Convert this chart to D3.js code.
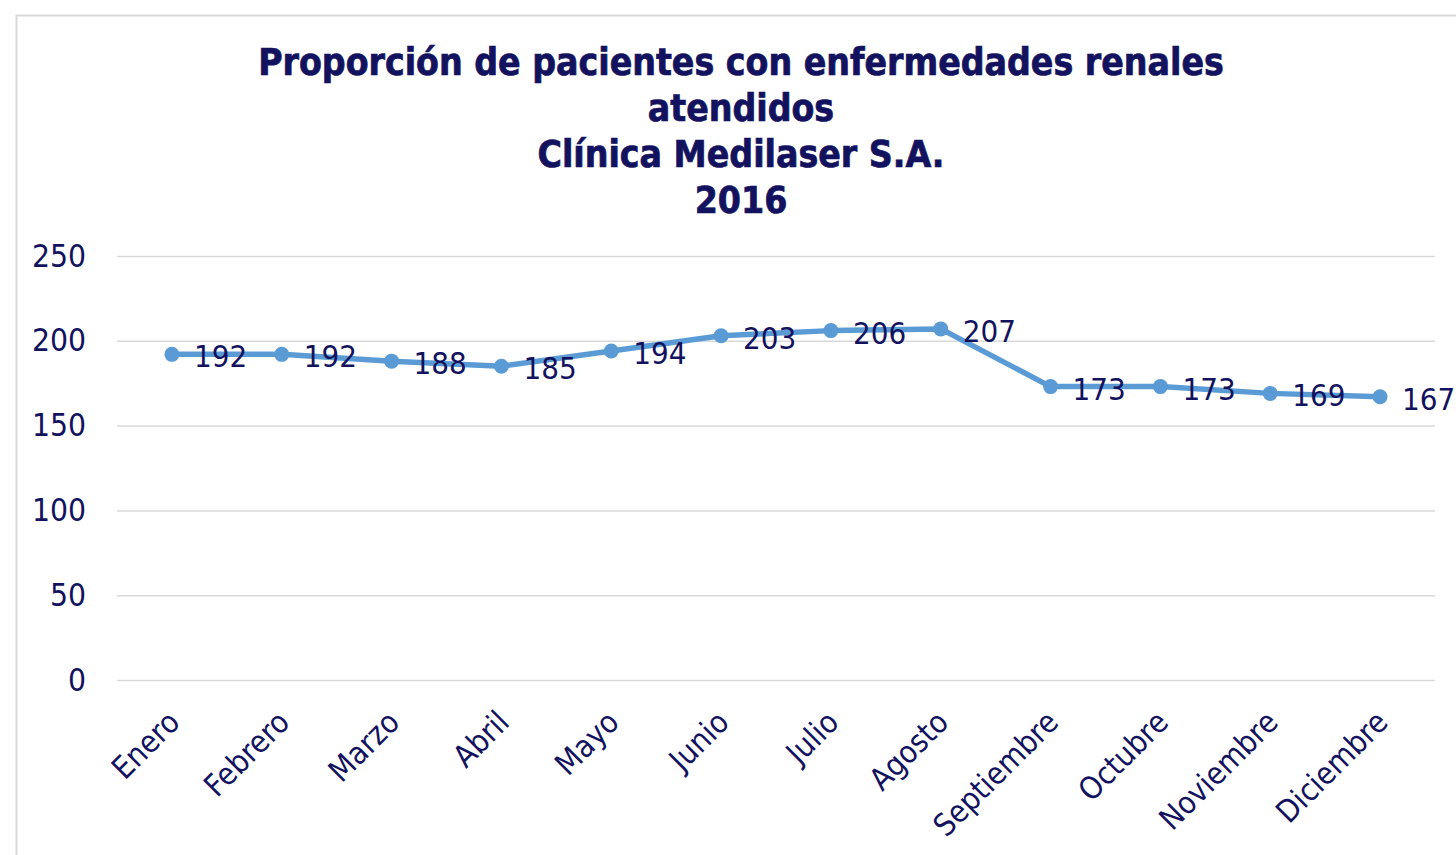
<!DOCTYPE html>
<html>
<head>
<meta charset="utf-8">
<script src="https://cdn.jsdelivr.net/npm/d3@7"></script>
<style>
  body { margin: 0; background: #fff; }
  svg text { font-family: 'DejaVu Sans Condensed', 'DejaVu Sans', sans-serif; }
</style>
</head>
<body>
<div id="chart"></div>
<script>
// months on the x axis
var months = ['Enero', 'Febrero', 'Marzo', 'Abril', 'Mayo', 'Junio', 'Julio',
              'Agosto', 'Septiembre', 'Octubre', 'Noviembre', 'Diciembre'];

// patients per month
var patients = [192, 192, 188, 185, 194, 203, 206, 207, 173, 173, 169, 167];

var yTicks = [0, 50, 100, 150, 200, 250];

var titleLines = ['Proporción de pacientes con enfermedades renales',
                  'atendidos',
                  'Clínica Medilaser S.A.',
                  '2016'];

var width = 1456, height = 855;
var plot = { left: 117, right: 1435, top: 256, bottom: 680 };
var navy = '#12125e', blue = '#5b9bd5';

var svg = d3.select('#chart').append('svg')
            .attr('width', width)
            .attr('height', height);

// chart frame
svg.append('rect')
   .attr('x', 16.5).attr('y', 15.5)
   .attr('width', width).attr('height', height)
   .attr('fill', '#fff')
   .attr('stroke', '#d9d9d9')
   .attr('stroke-width', 2);

var x = d3.scalePoint()
          .domain(months)
          .range([plot.left, plot.right])
          .padding(0.5);

var y = d3.scaleLinear()
          .domain([0, 250])
          .range([plot.bottom, plot.top]);

// title
svg.append('g')
   .selectAll('text')
   .data(titleLines).enter()
   .append('text')
   .attr('x', 741)
   .attr('y', function(d, i) { return 75 + i * 46; })
   .attr('text-anchor', 'middle')
   .attr('font-weight', 'bold')
   .attr('font-size', 37)
   .attr('fill', navy)
   .attr('stroke', navy)
   .attr('stroke-width', 0.7)
   .text(function(d) { return d; });

// gridlines + y labels
var yAxis = d3.axisLeft(y)
              .tickValues(yTicks)
              .tickSize(-(plot.right - plot.left))
              .tickPadding(31);

var yg = svg.append('g')
            .attr('transform', 'translate(' + plot.left + ',0)')
            .call(yAxis);
yg.select('.domain').remove();
yg.selectAll('.tick line').attr('stroke', '#d9d9d9').attr('stroke-width', 1.5);
yg.selectAll('.tick text')
  .attr('fill', navy)
  .attr('font-size', 31.5)
  .attr('font-family', null);

// x labels
var xAxis = d3.axisBottom(x).tickSize(0);
var xg = svg.append('g')
            .attr('transform', 'translate(0,' + plot.bottom + ')')
            .call(xAxis);
xg.select('.domain').remove();
xg.selectAll('.tick text')
  .attr('fill', navy)
  .attr('font-size', 31)
  .attr('font-family', null)
  .style('text-anchor', 'end')
  .attr('dx', 0).attr('dy', 0)
  .attr('transform', 'translate(7,42) rotate(-45)');

// line
var line = d3.line()
             .x(function(d, i) { return x(months[i]); })
             .y(function(d) { return y(d); });

svg.append('path')
   .datum(patients)
   .attr('d', line)
   .attr('fill', 'none')
   .attr('stroke', blue)
   .attr('stroke-width', 5.5)
   .attr('stroke-linejoin', 'round');

svg.append('g')
   .selectAll('circle')
   .data(patients).enter()
   .append('circle')
   .attr('cx', function(d, i) { return x(months[i]); })
   .attr('cy', function(d) { return y(d); })
   .attr('r', 7.5)
   .attr('fill', blue);

// value labels right of each point
svg.append('g')
   .selectAll('text')
   .data(patients).enter()
   .append('text')
   .attr('x', function(d, i) { return x(months[i]) + 22; })
   .attr('y', function(d) { return y(d) + 13; })
   .attr('font-size', 31)
   .attr('fill', navy)
   .text(function(d) { return d; });
</script>
</body>
</html>
